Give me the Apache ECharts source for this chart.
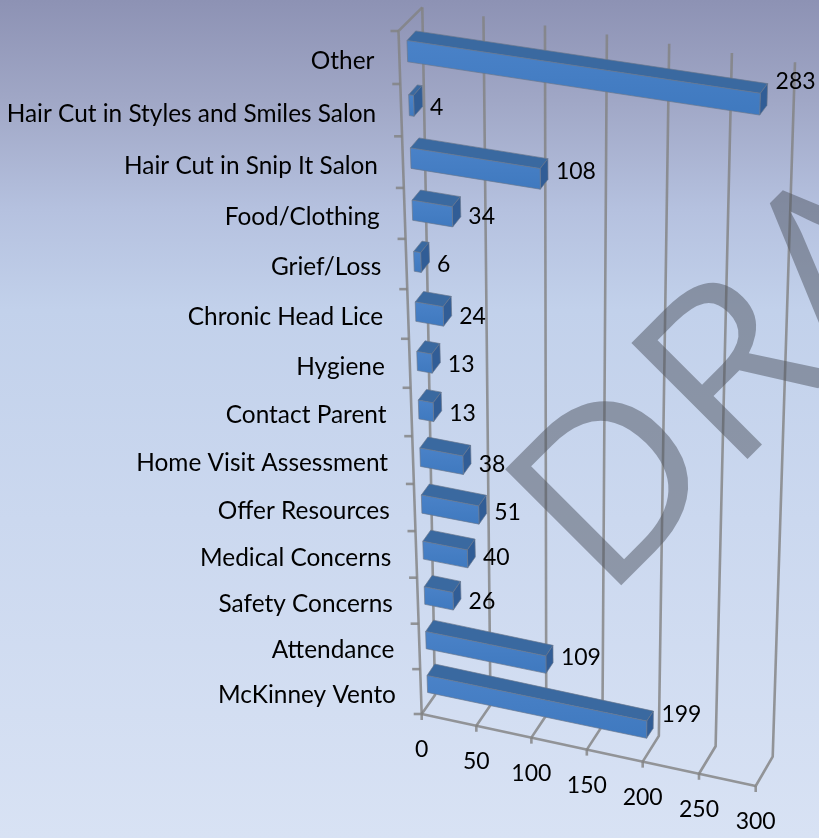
<!DOCTYPE html>
<html><head><meta charset="utf-8">
<style>html,body{margin:0;padding:0;background:#fff}#c{width:819px;height:838px}</style>
<script src="https://cdn.jsdelivr.net/npm/echarts@6/dist/echarts.min.js"></script>
</head><body><div id="c"></div>
<script>
const categories = ["McKinney Vento","Attendance","Safety Concerns","Medical Concerns","Offer Resources","Home Visit Assessment","Contact Parent","Hygiene","Chronic Head Lice","Grief/Loss","Food/Clothing","Hair Cut in Snip It Salon","Hair Cut in Styles and Smiles Salon","Other"];
const values = [199,109,26,40,51,38,13,13,24,6,34,108,4,283];
const valueTicks = [0,50,100,150,200,250,300];
const AXIS_MAX = 300, N = categories.length;

// plane fit: (u,w) in the unit square of the grid -> page, from four point pairs
function fit(pairs){
  const A=[];
  pairs.forEach(([u,w,x,y])=>{
    A.push([u,w,1,0,0,0,-u*x,-w*x,x]);
    A.push([0,0,0,u,w,1,-u*y,-w*y,y]);
  });
  for(let i=0;i<8;i++){
    let p=i; for(let r=i+1;r<8;r++) if(Math.abs(A[r][i])>Math.abs(A[p][i])) p=r;
    [A[i],A[p]]=[A[p],A[i]];
    for(let r=0;r<8;r++){ if(r===i) continue; const f=A[r][i]/A[i][i];
      for(let k=i;k<9;k++) A[r][k]-=f*A[i][k]; }
  }
  const h=A.map((r,i)=>r[8]/r[i]);
  return (u,w)=>{const d=h[6]*u+h[7]*w+1; return [(h[0]*u+h[1]*w+h[2])/d,(h[3]*u+h[4]*w+h[5])/d];};
}
const wallBack = fit([[0,0,435,695],[1,0,772.7,756.7],[0,1,422.3,7.3],[1,1,795,62.3]]);
const wallFront = fit([[0,0,421.7,714],[1,0,755.7,786],[0,1,398.5,31],[1,1,764,93]]);
const barFront = fit([[0,.5/14,427.3,684],[0,13.5/14,407.3,51.2],[283/300,13.5/14,760,104.2],[199/300,.5/14,646.7,729.7]]);
const barBack = fit([[0,.5/14,435,672.5],[0,13.5/14,416,41.5],[283/300,13.5/14,767.3,94.5],[199/300,.5/14,653.3,719.7]]);

const FONT = '"Lato","Open Sans",sans-serif';
const CAT_FONT = '24.4px '+FONT;
const NUM_FONT = '23px '+FONT;
const GRID = {stroke:'rgba(130,130,130,0.82)',lineWidth:2.6,fill:'none'};
const uOf=(api,cs,v)=>(api.coord([v,0])[0]-cs.x)/cs.width;
const wOf=(py,cs)=>(cs.y+cs.height-py)/cs.height;

function renderWalls(params,api){
  const cs=params.coordSys, v=api.value(0), u=uOf(api,cs,v);
  const f=wallFront(u,0), b=wallBack(u,0), t=wallBack(u,1);
  const ch=[
    {type:'polyline',shape:{points:[t,b,f]},style:GRID},
    {type:'line',shape:{x1:f[0],y1:f[1],x2:f[0],y2:f[1]+6},style:GRID},
    {type:'text',style:{text:String(v),x:f[0],y:f[1]+35.5,font:NUM_FONT,fill:'#000',align:'center',verticalAlign:'middle'}}
  ];
  if(v===0){
    const lt=wallFront(0,1);
    ch.push({type:'polyline',shape:{points:[t,lt,f]},style:GRID});
    ch.push({type:'polyline',shape:{points:[f,wallFront(1,0)]},style:GRID});
    for(let i=0;i<=N;i++){const p=wallFront(0,i/N);
      ch.push({type:'line',shape:{x1:p[0]-8,y1:p[1],x2:p[0],y2:p[1]},style:GRID});}
  }
  return {type:'group',children:ch};
}
function renderBars(params,api){
  const cs=params.coordSys, v=api.value(0), k=api.value(1);
  const p=api.coord([v,k]), band=api.size([0,1])[1], hh=band*0.195;
  const u=(p[0]-cs.x)/cs.width, wt=wOf(p[1]-hh,cs), wb=wOf(p[1]+hh,cs);
  const A=barFront(0,wt),B=barFront(u,wt),C=barFront(u,wb),D=barFront(0,wb);
  const A2=barBack(0,wt),B2=barBack(u,wt),C2=barBack(u,wb);
  const edge={stroke:'rgba(105,118,140,0.65)',lineWidth:1};
  const mid=barFront(u,(wt+wb)/2);
  return {type:'group',children:[
    {type:'polygon',shape:{points:[A,A2,B2,B]},style:{fill:'#3a69a0',...edge}},
    {type:'polygon',shape:{points:[B,B2,C2,C]},style:{fill:'#315d96',...edge}},
    {type:'polygon',shape:{points:[A,B,C,D]},style:{...edge,fill:{type:'linear',x:0,y:0,x2:0,y2:1,colorStops:[{offset:0,color:'#4a82c8'},{offset:1,color:'#3f79bf'}]}}},
    {type:'text',style:{text:String(v),x:B2[0]+8,y:mid[1]+2.5-0.09*v,font:NUM_FONT,fill:'#000',align:'left',verticalAlign:'middle'}}
  ]};
}
function renderCats(params,api){
  const cs=params.coordSys,k=api.value(0);
  const w=wOf(api.coord([0,k])[1],cs), p=wallFront(0,w);
  return {type:'text',style:{text:categories[k],x:p[0]-25,y:p[1]+3.5,font:CAT_FONT,fill:'#000',align:'right',verticalAlign:'middle'}};
}
const chart=echarts.init(document.getElementById('c'),null,{renderer:'canvas',width:819,height:838});
chart.setOption({
  animation:false,
  backgroundColor:{type:'linear',x:0,y:0,x2:0,y2:1,colorStops:[
    {offset:0,color:'#8d92b4'},{offset:0.12,color:'#a0a7c6'},{offset:0.25,color:'#b5c1df'},
    {offset:0.37,color:'#c2d1eb'},{offset:0.62,color:'#cbd8ef'},{offset:1,color:'#d8e2f4'}]},
  grid:{left:0,right:0,top:0,bottom:0},
  xAxis:{type:'value',min:0,max:AXIS_MAX,interval:50,show:false},
  yAxis:{type:'category',data:categories,show:false},
  series:[
    {type:'custom',coordinateSystem:'cartesian2d',renderItem:renderWalls,data:valueTicks.map(v=>[v,0]),encode:{x:0,y:1},z:1,silent:true},
    {type:'custom',coordinateSystem:'cartesian2d',renderItem:renderCats,data:categories.map((c,i)=>[i]),encode:{y:0},z:2,silent:true},
    {type:'custom',coordinateSystem:'cartesian2d',renderItem:renderBars,data:values.map((v,i)=>[v,i]),encode:{x:0,y:1},z:3,silent:true}
  ],
  graphic:[{type:'text',z:100,silent:true,x:476.5,y:474.5,rotation:Math.PI/4,scaleX:1.07,
    style:{text:'DRAFT',font:'230px "Open Sans",sans-serif',fill:'rgba(78,84,96,0.5)',align:'left',verticalAlign:'alphabetic'}}]
});
</script></body></html>
